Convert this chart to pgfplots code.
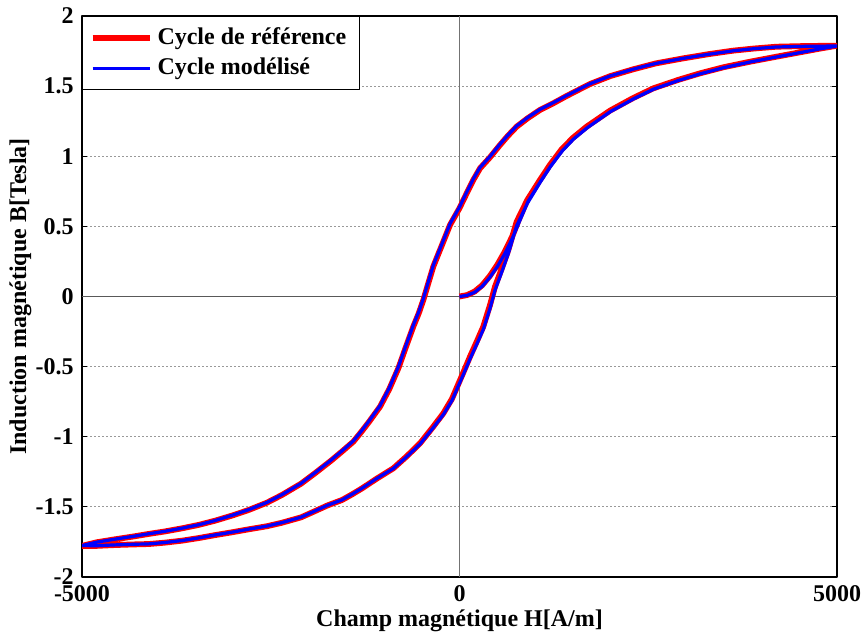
\documentclass[border=0pt]{standalone}
\usepackage{fontspec}
\setmainfont{Liberation Serif}
\usepackage{pgfplots}
\usepackage{pgfplotstable}
\pgfplotsset{compat=1.18}

% Measured hysteresis loop: first magnetisation, descending branch, ascending branch
\pgfplotstableread{
H B
0 0
100 0.01
200 0.035
300 0.08
400 0.145
500 0.225
600 0.32
700 0.43
780 0.54
900 0.69
1066 0.831
1200 0.94
1353 1.049
1500 1.13
1684 1.211
1993 1.325
2300 1.415
2567 1.484
2900 1.545
3185 1.591
3500 1.635
3848 1.674
4200 1.71
4510 1.741
4800 1.77
5000 1.788
4600 1.786
4200 1.781
3900 1.768
3627 1.753
3300 1.728
2964 1.698
2600 1.662
2302 1.620
2000 1.572
1728 1.515
1420 1.430
1250 1.38
1066 1.330
900 1.27
757 1.211
640 1.145
536 1.08
400 0.99
272 0.914
183 0.831
90 0.73
0 0.63
-126 0.510
-230 0.37
-347 0.213
-410 0.1
-479 -0.025
-540 -0.12
-612 -0.215
-710 -0.36
-810 -0.512
-930 -0.66
-1053 -0.786
-1200 -0.895
-1300 -0.965
-1406 -1.035
-1556 -1.105
-1700 -1.17
-1909 -1.258
-2100 -1.335
-2351 -1.415
-2550 -1.47
-2792 -1.522
-3000 -1.56
-3234 -1.598
-3450 -1.628
-3675 -1.653
-3900 -1.675
-4117 -1.693
-4330 -1.712
-4559 -1.731
-4800 -1.752
-5000 -1.778
-4800 -1.778
-4559 -1.772
-4330 -1.768
-4117 -1.765
-3900 -1.755
-3675 -1.741
-3450 -1.722
-3234 -1.701
-3000 -1.68
-2792 -1.660
-2550 -1.638
-2351 -1.613
-2100 -1.575
-1909 -1.529
-1750 -1.49
-1556 -1.451
-1420 -1.41
-1291 -1.368
-1100 -1.30
-876 -1.225
-700 -1.14
-523 -1.047
-350 -0.93
-214 -0.833
-100 -0.73
-16 -0.625
60 -0.53
139 -0.429
230 -0.32
315 -0.215
404 -0.061
470 0.07
560 0.2
646 0.33
757 0.533
900 0.69
1066 0.831
1200 0.94
1353 1.049
1500 1.13
1684 1.211
1993 1.325
2300 1.415
2567 1.484
2900 1.545
3185 1.591
3500 1.635
3848 1.674
4200 1.71
4510 1.741
4800 1.77
5000 1.788
}\refcycle

% Loop computed by the hysteresis model
\pgfplotstableread{
H B
0 0
100 0.008
200 0.03
300 0.072
400 0.135
500 0.212
600 0.305
700 0.415
790 0.53
910 0.68
1075 0.822
1210 0.932
1365 1.04
1510 1.122
1695 1.204
2000 1.319
2310 1.41
2575 1.479
2905 1.541
3190 1.588
3505 1.632
3850 1.672
4200 1.708
4510 1.739
4800 1.768
5000 1.786
4600 1.784
4200 1.779
3900 1.767
3627 1.752
3300 1.727
2964 1.698
2600 1.662
2302 1.621
2000 1.573
1728 1.517
1420 1.433
1250 1.384
1066 1.334
900 1.275
757 1.216
640 1.15
536 1.086
400 0.996
272 0.92
183 0.838
90 0.738
0 0.638
-126 0.518
-230 0.378
-347 0.222
-410 0.11
-479 -0.015
-540 -0.11
-612 -0.205
-710 -0.35
-810 -0.502
-930 -0.652
-1053 -0.779
-1200 -0.889
-1300 -0.96
-1406 -1.03
-1556 -1.101
-1700 -1.166
-1909 -1.255
-2100 -1.333
-2351 -1.413
-2550 -1.468
-2792 -1.52
-3000 -1.558
-3234 -1.597
-3450 -1.627
-3675 -1.652
-3900 -1.674
-4117 -1.692
-4330 -1.711
-4559 -1.73
-4800 -1.751
-5000 -1.776
-4800 -1.777
-4559 -1.771
-4330 -1.767
-4117 -1.764
-3900 -1.754
-3675 -1.74
-3450 -1.721
-3234 -1.7
-3000 -1.679
-2792 -1.659
-2550 -1.637
-2351 -1.612
-2100 -1.574
-1909 -1.528
-1750 -1.489
-1556 -1.45
-1420 -1.409
-1291 -1.367
-1100 -1.299
-876 -1.226
-700 -1.143
-523 -1.052
-350 -0.937
-214 -0.842
-100 -0.742
-16 -0.638
60 -0.545
139 -0.445
230 -0.338
315 -0.235
404 -0.085
470 0.045
560 0.175
646 0.305
757 0.505
900 0.665
1066 0.812
1200 0.922
1353 1.033
1500 1.117
1684 1.2
1993 1.316
2300 1.408
2567 1.478
2900 1.54
3185 1.587
3500 1.632
3848 1.672
4200 1.708
4510 1.739
4800 1.768
5000 1.786
}\modcycle

\begin{document}
\fontsize{12}{14.4}\selectfont
\begin{tikzpicture}
\begin{axis}[
  at={(0,0)}, anchor=south west,
  scale only axis,
  width=377.5pt, height=280.5pt,
  xmin=-5000, xmax=5000, ymin=-2, ymax=2,
  font=\bfseries,
  xtick={-5000,0,5000},
  xticklabels={-5000,0,5000},
  ytick={-2,-1.5,-1,-0.5,0,0.5,1,1.5,2},
  yticklabels={-2,-1.5,-1,-0.5,0,0.5,1,1.5,2},
  tick align=inside,
  xtick pos=both, ytick pos=both,
  major tick length=2.5pt,
  tick style={black, line width=0.6pt},
  axis line style={black, line width=0.9pt},
  ymajorgrids,
  major grid style={black!40, dash pattern=on 1pt off 1pt, line width=0.55pt},
  xlabel={Champ magnétique H[A/m]},
  ylabel={Induction magnétique B[Tesla]},
  xlabel style={at={(axis description cs:0.5,-0.078)}, anchor=center},
  ylabel style={at={(axis description cs:-0.0815,0.5)}, anchor=center},
  legend style={at={(0,1)}, anchor=north west, draw=black, line width=0.7pt,
    inner xsep=3.5pt, inner ysep=5.5pt, row sep=5pt, column sep=2.5pt,
    nodes={inner sep=0pt, anchor=west}, font=\bfseries},
  legend cell align=left,
  legend image code/.code={\draw[#1, line cap=butt] (0pt,0pt) -- (28.5pt,0pt);},
  line join=round,
]
% zero lines through the origin
\addplot[black!55, line width=0.5pt, forget plot] coordinates {(0,-2) (0,2)};
\addplot[black!65, line width=0.5pt, forget plot] coordinates {(-5000,0) (5000,0)};

\addplot[red, line width=2.9pt] table[x=H, y=B] {\refcycle};
\addlegendentry{Cycle de référence\kern3pt}
\addplot[blue, line width=1.6pt] table[x=H, y=B] {\modcycle};
\addlegendentry{Cycle modélisé}
\end{axis}
\pgfresetboundingbox
\path (-41pt,-29pt) rectangle (390pt,288.5pt);
\end{tikzpicture}
\end{document}
